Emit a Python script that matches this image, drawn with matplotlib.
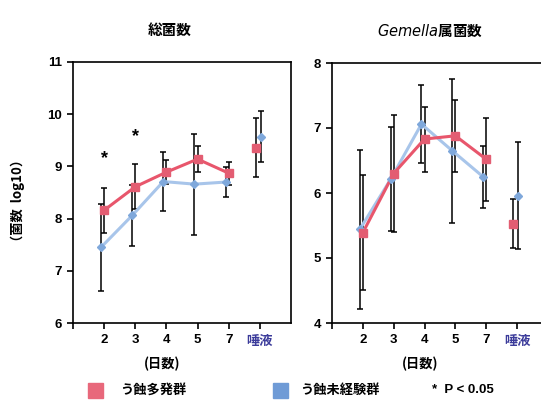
import matplotlib
matplotlib.use("Agg")
import matplotlib.pyplot as plt
import numpy as np

plt.rcParams['font.family'] = ['Liberation Sans', 'Noto Sans CJK JP', 'DejaVu Sans']

# categories (days + saliva)
categories = ['2', '3', '4', '5', '7', '唾液']

# total bacteria (log10)
total_red = [8.16, 8.61, 8.89, 9.14, 8.87, 9.36]
total_red_err = [0.43, 0.43, 0.23, 0.25, 0.22, 0.57]
total_blue = [7.45, 8.06, 8.71, 8.66, 8.70, 9.57]
total_blue_err = [0.83, 0.58, 0.57, 0.97, 0.28, 0.49]

# Gemella (log10)
gem_red = [5.39, 6.30, 6.83, 6.88, 6.52, 5.53]
gem_red_err = [0.88, 0.90, 0.50, 0.55, 0.64, 0.38]
gem_blue = [5.44, 6.21, 7.06, 6.65, 6.25, 5.96]
gem_blue_err = [1.22, 0.80, 0.60, 1.11, 0.48, 0.82]

RED_LINE = '#e8566c'
RED_MARK = '#e35d72'
BLUE_LINE = '#a8c5ea'
BLUE_MARK = '#7fa8db'
SALIVA_COL = '#3b3b9a'

W, H = 541, 401
fig = plt.figure(figsize=(W / 100, H / 100), dpi=100)


def panel(rect, xlim, ylim, red, red_err, blue, blue_err):
    ax = fig.add_axes(rect)
    x = np.arange(len(categories), dtype=float)
    xr = x.copy()
    xb = x - 0.1
    xr[-1] = x[-1] - 0.12
    xb[-1] = x[-1] + 0.03
    # error bars
    ax.errorbar(xb, blue, yerr=blue_err, fmt='none', ecolor='black',
                elinewidth=1.1, capsize=2.2, capthick=1.1, zorder=2)
    ax.errorbar(xr, red, yerr=red_err, fmt='none', ecolor='black',
                elinewidth=1.1, capsize=2.2, capthick=1.1, zorder=2)
    # lines (days only)
    ax.plot(xb[:-1], blue[:-1], '-', color=BLUE_LINE, lw=2.2, zorder=3)
    ax.plot(xr[:-1], red[:-1], '-', color=RED_LINE, lw=2.2, zorder=4)
    ax.plot(xb, blue, 'D', color=BLUE_MARK, ms=3.8, mec=BLUE_MARK, zorder=5)
    ax.plot(xr, red, 's', color=RED_MARK, ms=6, mec=RED_MARK, zorder=6)
    ax.set_xlim(*xlim)
    ax.set_ylim(*ylim)
    ax.set_xticks(np.arange(-1, len(categories)))
    ax.set_xticklabels([''] + categories)
    for lab in ax.get_xticklabels():
        lab.set_fontweight('bold')
        lab.set_fontsize(9.5)
        if lab.get_text() == '唾液':
            lab.set_color(SALIVA_COL)
            lab.set_family(['Noto Sans CJK JP'])
    ax.set_yticks(np.arange(ylim[0], ylim[1] + 1))
    for lab in ax.get_yticklabels():
        lab.set_fontweight('bold')
        lab.set_fontsize(9.5)
    ax.tick_params(direction='out', length=4, width=1.2, pad=4)
    for s in ax.spines.values():
        s.set_linewidth(1.2)
    return ax


def fx(px):
    return px / W


def fy(py):
    return 1 - py / H


ax1 = panel([fx(73), fy(323), fx(218), 261 / H], (-1, 6), (6, 11),
            total_red, total_red_err, total_blue, total_blue_err)
ax2 = panel([fx(332), fy(323), fx(218), 260 / H], (-0.93, 6.07), (4, 8),
            gem_red, gem_red_err, gem_blue, gem_blue_err)

# significance marks
ax1.text(0, 9.15, '*', ha='center', va='center', fontsize=13, fontweight='bold')
ax1.text(1, 9.57, '*', ha='center', va='center', fontsize=13, fontweight='bold')

jp = ['Noto Sans CJK JP', 'DejaVu Sans']

# titles
fig.text(fx(170), fy(30), '総菌数', ha='center', va='center', fontsize=10.5,
         fontweight='bold', family=jp)
fig.text(fx(430), fy(30), r'$\mathit{Gemella}$属菌数', ha='center', va='center',
         fontsize=10.5, fontweight='bold', family=jp)
# figure caption, mostly above the visible area as in the reference
fig.text(fx(330), fy(-7), '図　総菌数およびGemella属菌数の経時変化', ha='center',
         va='center', fontsize=11, fontweight='bold', family=jp, color='#333333')

# y label
fig.text(fx(18), fy(200), '（菌数  log10）', rotation=90, ha='center', va='center',
         fontsize=9.5, fontweight='bold', family=jp)

# x labels
fig.text(fx(162), fy(364), '(日数)', ha='center', va='center', fontsize=9.5,
         fontweight='bold', family=jp)
fig.text(fx(420), fy(364), '(日数)', ha='center', va='center', fontsize=9.5,
         fontweight='bold', family=jp)

# legend
fig.patches.append(plt.Rectangle((fx(88), fy(398)), fx(15), 15 / H,
                                 transform=fig.transFigure, color='#e8687b'))
fig.text(fx(120), fy(390), 'う蝕多発群', ha='left', va='center', fontsize=9.5,
         fontweight='bold', family=jp)
fig.patches.append(plt.Rectangle((fx(273), fy(398)), fx(15), 15 / H,
                                 transform=fig.transFigure, color='#6f9bd6'))
fig.text(fx(300), fy(390), 'う蝕未経験群', ha='left', va='center', fontsize=9.5,
         fontweight='bold', family=jp)
fig.text(fx(432), fy(390), '*  P < 0.05', ha='left', va='center', fontsize=9.5,
         fontweight='bold')

fig.savefig('out.png', dpi=100)
